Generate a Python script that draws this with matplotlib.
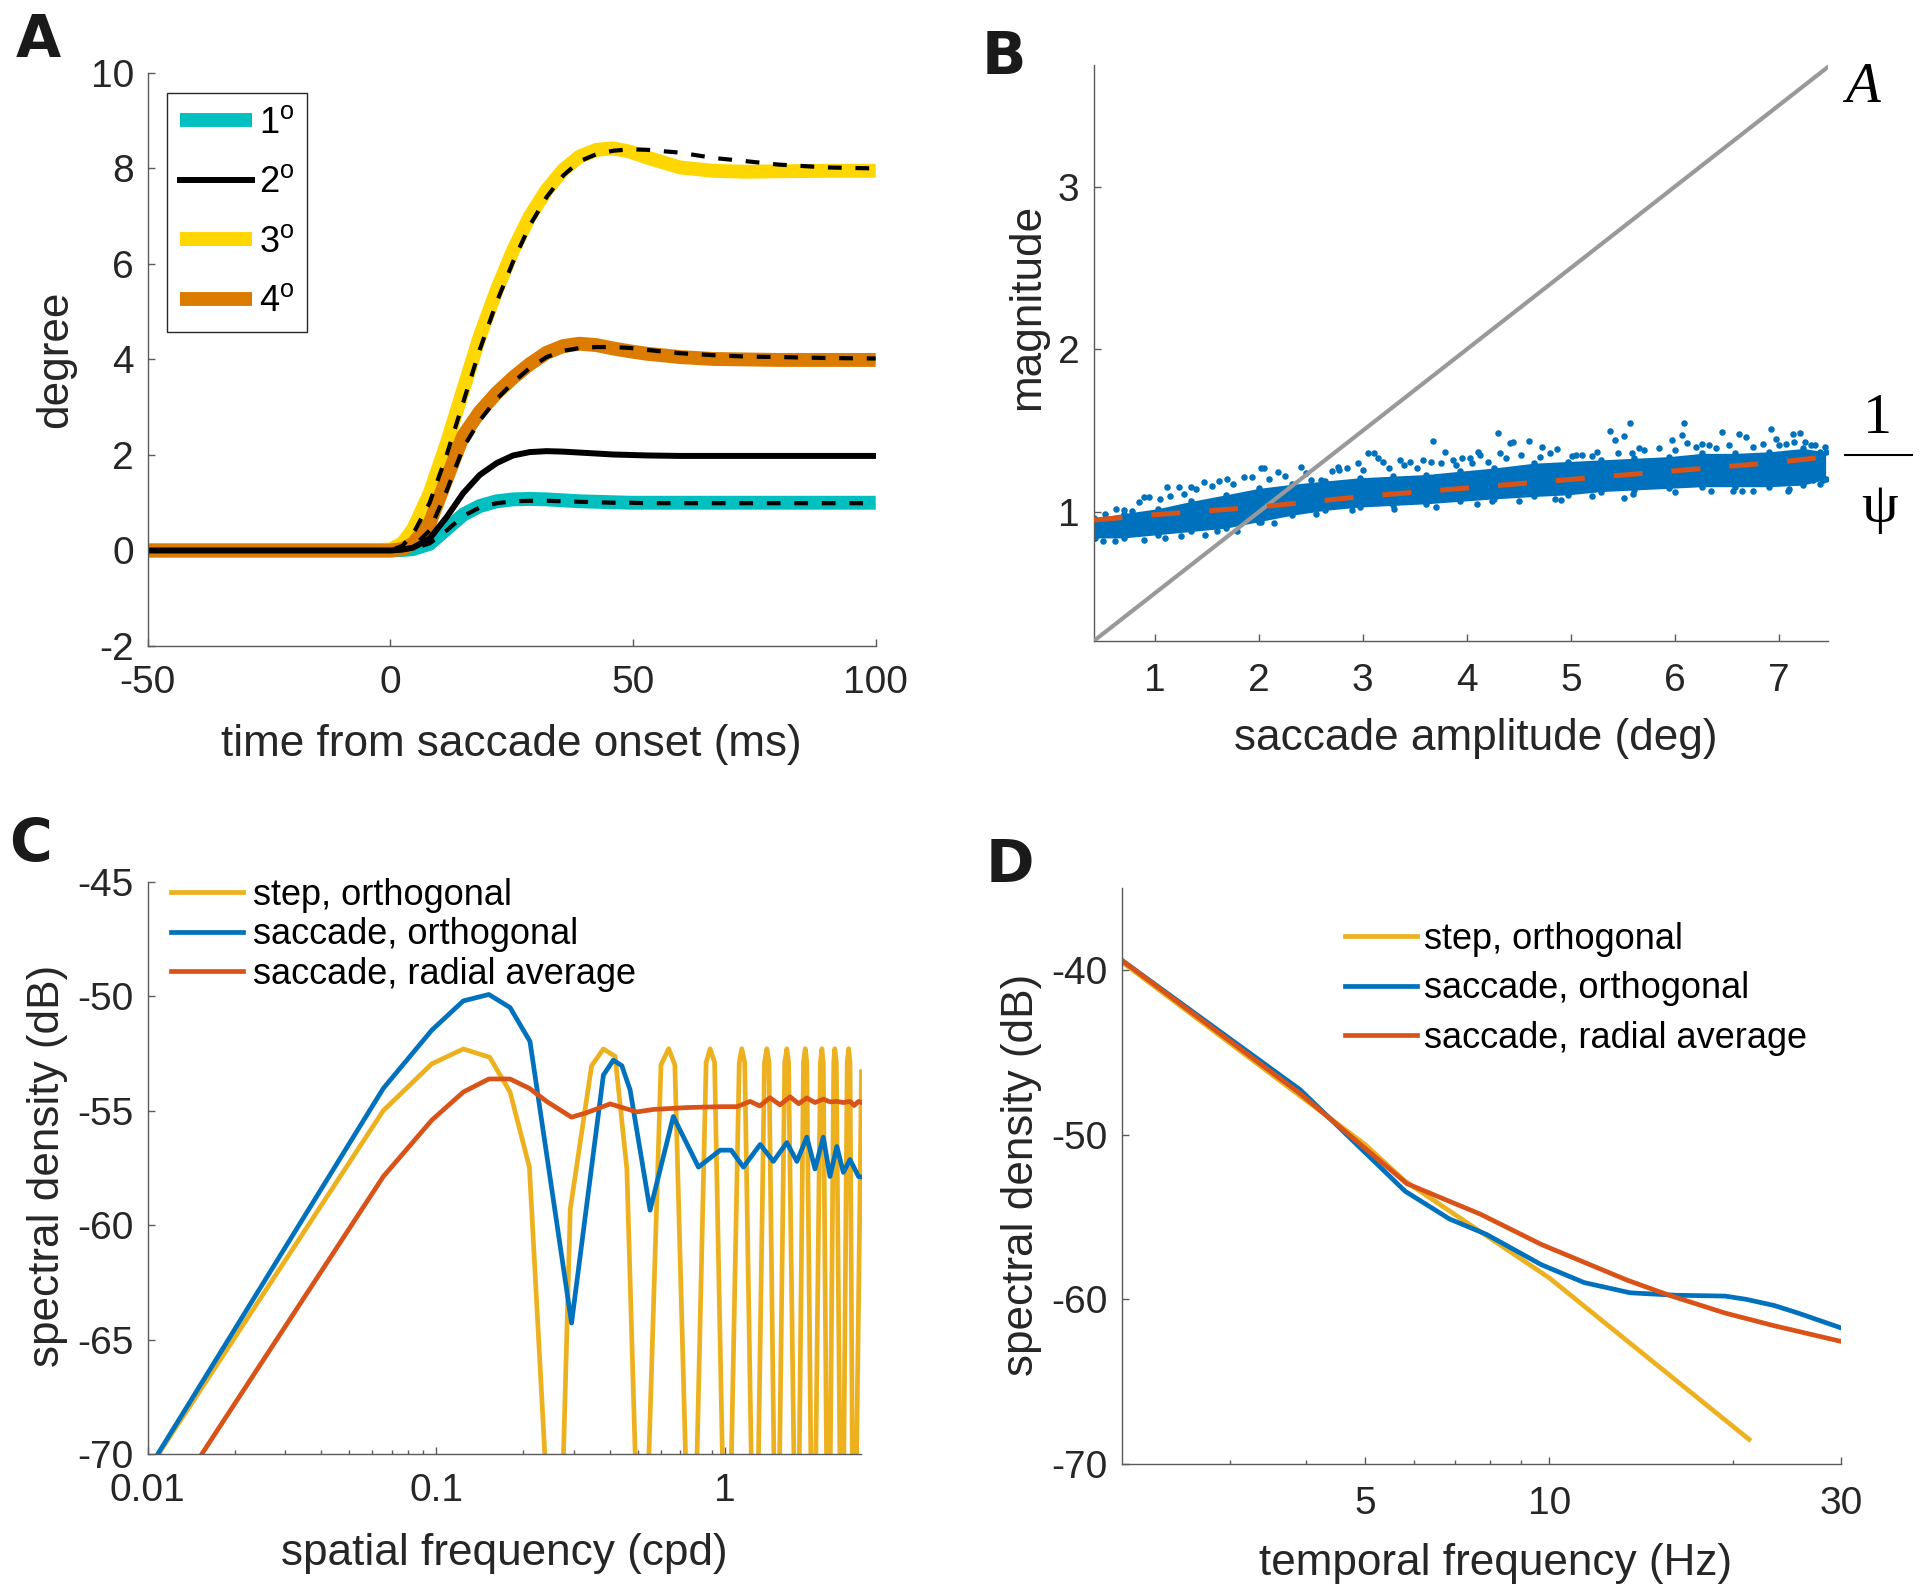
import matplotlib
matplotlib.use('Agg')
import matplotlib.pyplot as plt
from matplotlib.lines import Line2D
from matplotlib.ticker import FixedLocator, FixedFormatter, NullFormatter

plt.rcParams['font.family'] = ['Liberation Sans', 'DejaVu Sans']
plt.rcParams['mathtext.fontset'] = 'custom'
plt.rcParams['mathtext.rm'] = 'Liberation Sans'
plt.rcParams['mathtext.it'] = 'Liberation Sans:italic'
plt.rcParams['axes.unicode_minus'] = False

# ---------------- Panel A data ----------------
t_ms = [-50, -5, 0, 2.5, 4.7, 8.1, 11.6, 15, 18.4, 21.9, 25.3, 28.7, 32.2, 35.6,
        39, 42.5, 45.9, 49.4, 52.8, 59.7, 66.5, 73.4, 80, 90, 100]
pos_1deg = [0, 0, 0, 0.01, 0.03, 0.14, 0.45, 0.75, 0.93, 1.03, 1.07, 1.08, 1.07, 1.05,
            1.03, 1.02, 1.01, 1.0, 1.0, 1.0, 1.0, 1.0, 1.0, 1.0, 1.0]
fit_1deg = [0, 0, 0, 0.01, 0.04, 0.15, 0.42, 0.72, 0.9, 0.99, 1.03, 1.04, 1.04, 1.03,
            1.02, 1.01, 1.0, 1.0, 0.99, 0.99, 0.99, 0.99, 0.99, 0.99, 0.99]
pos_2deg = [0, 0, 0, 0.02, 0.06, 0.25, 0.7, 1.2, 1.58, 1.83, 1.99, 2.06, 2.08, 2.07,
            2.05, 2.03, 2.01, 2.0, 1.99, 1.98, 1.98, 1.98, 1.98, 1.98, 1.98]
pos_3deg = [0, 0, 0.02, 0.15, 0.45, 1.2, 2.24, 3.36, 4.48, 5.45, 6.29, 6.99, 7.55, 7.97,
            8.25, 8.39, 8.42, 8.35, 8.23, 8.02, 7.95, 7.93, 7.94, 7.95, 7.95]
fit_3deg = [0, 0, 0, 0.1, 0.35, 1.0, 2.0, 3.1, 4.2, 5.2, 6.05, 6.8, 7.4, 7.85,
            8.15, 8.3, 8.37, 8.4, 8.39, 8.33, 8.22, 8.15, 8.08, 8.02, 8.0]
pos_4deg = [0, 0, 0, 0.03, 0.15, 0.57, 1.5, 2.4, 2.9, 3.3, 3.62, 3.9, 4.14, 4.28,
            4.33, 4.3, 4.23, 4.17, 4.12, 4.05, 4.01, 4.0, 3.99, 3.99, 3.99]
fit_4deg = [0, 0, 0, 0.01, 0.08, 0.42, 1.25, 2.15, 2.72, 3.17, 3.52, 3.82, 4.05, 4.18,
            4.24, 4.26, 4.26, 4.24, 4.2, 4.13, 4.09, 4.06, 4.05, 4.03, 4.02]
legend_A = ['1$^{\\rm o}$', '2$^{\\rm o}$', '3$^{\\rm o}$', '4$^{\\rm o}$']

# ---------------- Panel B data ----------------
core_amp = [0.41, 0.70, 1.03, 1.35, 1.68, 2.0, 2.32, 2.64, 2.97, 3.29, 3.61, 3.93, 4.26,
            4.65, 4.97, 5.29, 5.61, 5.94, 6.26, 6.58, 6.91, 7.23, 7.45]
core_low = [0.84, 0.84, 0.86, 0.88, 0.90, 0.94, 0.98, 1.01, 1.03, 1.04, 1.05, 1.065, 1.08,
            1.095, 1.105, 1.125, 1.135, 1.145, 1.155, 1.155, 1.155, 1.165, 1.20]
core_high = [0.96, 0.99, 1.02, 1.065, 1.105, 1.145, 1.17, 1.19, 1.21, 1.22, 1.23, 1.25, 1.27,
             1.30, 1.31, 1.32, 1.33, 1.34, 1.36, 1.36, 1.37, 1.39, 1.37]
outlier_amp = [0.892, 0.94, 1.118, 1.23, 1.343, 1.471, 1.697, 1.857, 1.938, 2.018, 2.05, 2.18,
               2.404, 2.50, 2.597, 2.759, 2.774, 2.95, 3.048, 3.112, 3.145, 3.193, 3.353,
               3.45, 3.579, 3.659, 3.676, 3.788, 3.869, 3.949, 4.029, 4.11, 4.126, 4.303,
               4.318, 4.415, 4.448, 4.593, 4.721, 4.866, 5.01, 5.107, 5.204, 5.38, 5.429,
               5.51, 5.573, 5.59, 5.655, 5.976, 6.089, 6.073, 6.12, 6.265, 6.33, 6.458,
               6.62, 6.683, 6.925, 6.973, 7.07, 7.134, 7.199, 7.247, 7.311, 7.392,
               0.42, 0.425, 1.48, 1.79, 2.02, 0.70, 0.78, 0.57, 5.51, 6.555, 6.65, 7.086,
               7.327, 7.42, 4.238, 4.91,
               0.52, 0.63, 0.85, 1.05, 1.15, 1.28, 1.40, 1.55, 1.62, 1.75, 2.10, 2.25,
               2.45, 2.70, 2.85, 3.00, 3.25, 3.40, 3.52, 3.75, 3.90, 4.05, 4.20, 4.38,
               4.52, 4.70, 4.80, 5.05, 5.25, 5.45, 5.70, 5.85, 6.00, 6.20, 6.40, 6.52,
               6.75, 6.85, 7.00, 7.15, 7.35, 7.44,
               0.50, 0.62, 0.90, 1.10, 1.25, 1.60, 2.15, 2.55, 2.90, 3.30, 3.70, 4.10,
               4.50, 4.85, 5.20, 5.60, 6.00, 6.35, 6.75, 7.10, 7.40]
outlier_mag = [1.091, 1.091, 1.153, 1.153, 1.153, 1.181, 1.202, 1.214, 1.217, 1.27, 1.27, 1.243,
               1.276, 1.198, 1.198, 1.276, 1.259, 1.30, 1.362, 1.362, 1.331, 1.31, 1.32,
               1.31, 1.32, 1.31, 1.433, 1.371, 1.32, 1.331, 1.331, 1.371, 1.351, 1.488,
               1.361, 1.423, 1.427, 1.437, 1.402, 1.386, 1.341, 1.351, 1.341, 1.50, 1.443,
               1.468, 1.546, 1.365, 1.392, 1.443, 1.546, 1.474, 1.423, 1.42, 1.412, 1.49,
               1.48, 1.46, 1.51, 1.447, 1.417, 1.48, 1.488, 1.427, 1.412, 1.371,
               0.87, 0.84, 0.86, 0.88, 0.936, 1.01, 1.005, 0.93, 1.085, 1.126, 1.126, 1.126,
               1.198, 1.198, 1.065, 1.075,
               0.99, 1.02, 1.06, 1.08, 1.10, 1.11, 1.14, 1.16, 1.19, 1.17, 1.20, 1.22,
               1.24, 1.25, 1.27, 1.26, 1.27, 1.29, 1.27, 1.30, 1.29, 1.30, 1.31, 1.33,
               1.35, 1.34, 1.36, 1.35, 1.37, 1.36, 1.38, 1.39, 1.38, 1.40, 1.39, 1.41,
               1.40, 1.42, 1.41, 1.43, 1.41, 1.40,
               0.82, 0.82, 0.83, 0.84, 0.85, 0.88, 0.93, 0.99, 1.01, 1.02, 1.03, 1.05,
               1.07, 1.08, 1.10, 1.11, 1.12, 1.13, 1.13, 1.14, 1.17]
line_A_amp = [0.41, 7.5]
line_A_mag = [0.205, 3.75]
fit_amp = [0.41, 1, 2, 3, 4, 5, 6, 7, 7.47]
fit_mag = [0.95, 0.983, 1.03, 1.095, 1.147, 1.20, 1.253, 1.306, 1.34]

# ---------------- Panel C data ----------------
sf_step = [0.0109, 0.0655, 0.0964, 0.124, 0.153, 0.18, 0.21, 0.262,
           0.291, 0.345, 0.379, 0.416, 0.457, 0.515,
           0.60, 0.638, 0.67, 0.767,
           0.86, 0.888, 0.92, 1.015,
           1.12, 1.143, 1.17, 1.27,
           1.37, 1.396, 1.42, 1.51,
           1.61, 1.637, 1.66, 1.774,
           1.87, 1.896, 1.92, 2.02,
           2.14, 2.165, 2.19, 2.28,
           2.38, 2.40, 2.43, 2.54,
           2.65, 2.68, 2.71, 2.79, 2.97]
db_step = [-70.0, -55.0, -52.96, -52.31, -52.67, -54.19, -57.47, -80,
           -59.3, -53.04, -52.31, -52.63, -57.55, -80,
           -53.0, -52.3, -53.0, -80,
           -52.9, -52.3, -52.9, -80,
           -52.9, -52.3, -52.9, -80,
           -52.9, -52.3, -52.9, -80,
           -52.9, -52.3, -52.9, -80,
           -52.9, -52.3, -52.9, -80,
           -52.9, -52.3, -52.9, -80,
           -52.9, -52.3, -52.9, -80,
           -52.9, -52.3, -52.9, -80, -53.3]
sf_sacc = [0.0106, 0.0655, 0.0964, 0.124, 0.152, 0.18, 0.211, 0.294, 0.379, 0.41, 0.439,
           0.469, 0.55, 0.662, 0.809, 0.962, 1.05, 1.158, 1.324, 1.47, 1.637, 1.774, 1.92,
           2.05, 2.19, 2.31, 2.44, 2.57, 2.71, 2.90, 2.97]
db_sacc = [-70.2, -54.03, -51.49, -50.21, -49.93, -50.5, -51.98, -64.28, -53.45, -52.8,
           -53.04, -54.1, -59.35, -55.26, -57.47, -56.73, -56.73, -57.47, -56.48, -57.22,
           -56.4, -57.22, -56.16, -57.55, -56.16, -57.88, -56.57, -57.7, -57.14, -57.88,
           -57.9]
sf_rad = [0.0154, 0.0655, 0.0964, 0.124, 0.152, 0.18, 0.21, 0.241, 0.294, 0.332, 0.40,
          0.495, 0.565, 0.738, 0.962, 1.099, 1.222, 1.32, 1.43, 1.55, 1.68, 1.80, 1.92,
          2.05, 2.19, 2.31, 2.44, 2.57, 2.71, 2.8, 2.9, 2.97]
db_rad = [-70, -57.88, -55.42, -54.19, -53.62, -53.62, -54.03, -54.6, -55.29, -55.09,
          -54.71, -55.06, -54.95, -54.87, -54.83, -54.83, -54.6, -54.8, -54.44, -54.75,
          -54.4, -54.7, -54.45, -54.65, -54.5, -54.62, -54.6, -54.65, -54.6, -54.78,
          -54.6, -54.65]
legend_CD = ['step, orthogonal', 'saccade, orthogonal', 'saccade, radial average']

# ---------------- Panel D data ----------------
tf_step = [2, 3.9, 5.0, 5.8, 10, 21.2]
tdb_step = [-39.5, -47.6, -50.6, -52.8, -58.7, -68.5]
tf_sacc = [2, 3.915, 5.81, 6.87, 7.89, 9.71, 11.4, 13.55, 16.1, 19.37, 21.0, 23.3,
           25.5, 29.8]
tdb_sacc = [-39.4, -47.27, -53.43, -55.12, -56.05, -57.9, -58.98, -59.6, -59.75, -59.8,
            -60.0, -60.37, -60.83, -61.7]
tf_rad = [2, 3.915, 5.85, 7.71, 9.71, 13.4, 15.7, 19.37, 23.3, 29.8]
tdb_rad = [-39.4, -47.5, -52.97, -54.82, -56.67, -58.83, -59.75, -60.83, -61.6, -62.53]

# ---------------- figure ----------------
W, H = 1920, 1590
fig = plt.figure(figsize=(19.2, 15.9), dpi=100)


def rect(x0, y0, x1, y1):
    return [x0 / W, 1 - y1 / H, (x1 - x0) / W, (y1 - y0) / H]


axA = fig.add_axes(rect(147.7, 72.9, 875.7, 646))
axB = fig.add_axes(rect(1093.5, 64.7, 1827.7, 641.2))
axC = fig.add_axes(rect(147.7, 881.6, 861.5, 1454))
axD = fig.add_axes(rect(1121.8, 887.8, 1841.2, 1464))

AXC = '#5a5a5a'
TXT = '#262626'


def style(ax):
    for s in ['top', 'right']:
        ax.spines[s].set_visible(False)
    for s in ['left', 'bottom']:
        ax.spines[s].set_color(AXC)
        ax.spines[s].set_linewidth(1.0)
    ax.tick_params(which='both', direction='in', color=AXC, labelcolor=TXT, width=1.0)
    ax.tick_params(which='major', length=5, labelsize=28)
    ax.tick_params(which='minor', length=3)
    ax.tick_params(axis='x', which='both', pad=14)
    ax.tick_params(axis='y', which='both', pad=10)


LBL = 31.8

# ---- A ----
style(axA)
cy, ye, ora = '#00BFBF', '#FFD700', '#DB7B00'
l1, = axA.plot(t_ms, pos_1deg, color=cy, lw=10, solid_capstyle='butt', label=legend_A[0])
l3, = axA.plot(t_ms, pos_3deg, color=ye, lw=10, solid_capstyle='butt', label=legend_A[2])
l4, = axA.plot(t_ms, pos_4deg, color=ora, lw=10, solid_capstyle='butt', label=legend_A[3])
l2, = axA.plot(t_ms, pos_2deg, color='black', lw=4.3, label=legend_A[1])
for fit in (fit_1deg, fit_3deg, fit_4deg):
    axA.plot(t_ms, fit, color='black', lw=3, linestyle=(0, (3.3, 3.3)))
axA.set_xlim(-50, 100)
axA.set_ylim(-2, 10)
axA.set_xticks([-50, 0, 50, 100])
axA.set_yticks([-2, 0, 2, 4, 6, 8, 10])
axA.set_xlabel('time from saccade onset (ms)', fontsize=LBL, color=TXT)
axA.set_ylabel('degree', fontsize=LBL, color=TXT)
axA.xaxis.set_label_coords(0.5, -0.1727)
axA.yaxis.set_label_coords(-0.126, 0.5)
axA.xaxis.label.set_va('center')
axA.yaxis.label.set_va('center')
legA = axA.legend(handles=[l1, l2, l3, l4], labels=legend_A, loc='upper left',
                  bbox_to_anchor=(167 / W, 1 - 93 / H), bbox_transform=fig.transFigure,
                  borderaxespad=0, fontsize=26, handlelength=2.0, handletextpad=0.2,
                  labelspacing=0.68, borderpad=0.35, fancybox=False, framealpha=1,
                  edgecolor=TXT)
legA.get_frame().set_linewidth(1.0)

# ---- B ----
style(axB)
blue = '#0072BD'
axB.fill_between(core_amp, core_low, core_high, color=blue, lw=0, zorder=2)
axB.scatter(core_amp, core_low, s=22, color=blue, lw=0, zorder=2)
axB.scatter(core_amp, core_high, s=22, color=blue, lw=0, zorder=2)
axB.scatter(outlier_amp, outlier_mag, s=22, color=blue, lw=0, zorder=2)
axB.plot(line_A_amp, line_A_mag, color='#999999', lw=3.0, zorder=3)
axB.plot(fit_amp, fit_mag, color='#D95319', lw=3.6, linestyle=(0, (5.8, 5.8)), zorder=4)
axB.set_xlim(0.41, 7.47)
axB.set_ylim(0.205, 3.75)
axB.set_xticks([1, 2, 3, 4, 5, 6, 7])
axB.set_yticks([1, 2, 3])
axB.tick_params(axis='x', pad=16)
axB.set_xlabel('saccade amplitude (deg)', fontsize=LBL, color=TXT)
axB.set_ylabel('magnitude', fontsize=LBL, color=TXT)
axB.xaxis.set_label_coords(0.52, -0.1696)
axB.yaxis.set_label_coords(-0.0892, 0.5797)
axB.xaxis.label.set_va('center')
axB.yaxis.label.set_va('center')

fig.text(1863 / W, 1 - 102 / H, 'A', fontsize=41, family='Liberation Serif', style='italic',
         ha='center', va='baseline')
fig.text(1877.5 / W, 1 - 433 / H, '1', fontsize=42, family='Liberation Serif',
         ha='center', va='baseline')
fig.add_artist(Line2D([1845 / W, 1912 / W], [1 - 455 / H, 1 - 455 / H], color='black', lw=1.5))
fig.text(1879.5 / W, 1 - 508 / H, '\u03c8', fontsize=42, family='Liberation Serif',
         ha='center', va='center')

# ---- C ----
style(axC)
c_y, c_b, c_r = '#EDB120', '#0072BD', '#D95319'
axC.plot(sf_step, db_step, color=c_y, lw=3.4, label=legend_CD[0])
axC.plot(sf_sacc, db_sacc, color=c_b, lw=3.4, label=legend_CD[1])
axC.plot(sf_rad, db_rad, color=c_r, lw=3.4, label=legend_CD[2])
axC.set_xscale('log')
axC.set_xlim(0.01, 2.97)
axC.set_ylim(-70, -45)
axC.xaxis.set_major_locator(FixedLocator([0.01, 0.1, 1]))
axC.xaxis.set_major_formatter(FixedFormatter(['0.01', '0.1', '1']))
axC.xaxis.set_minor_locator(FixedLocator([0.02, 0.03, 0.04, 0.05, 0.06, 0.07, 0.08, 0.09,
                                          0.2, 0.3, 0.4, 0.5, 0.6, 0.7, 0.8, 0.9, 2]))
axC.xaxis.set_minor_formatter(NullFormatter())
axC.set_yticks([-70, -65, -60, -55, -50, -45])
axC.set_xlabel('spatial frequency (cpd)', fontsize=LBL, color=TXT)
axC.set_ylabel('spectral density (dB)', fontsize=LBL, color=TXT)
axC.xaxis.set_label_coords(0.499, -0.1747)
axC.yaxis.set_label_coords(-0.1397, 0.503)
axC.xaxis.label.set_va('center')
axC.yaxis.label.set_va('center')
axC.legend(loc='upper left', bbox_to_anchor=(171 / W, 1 - 878 / H),
           bbox_transform=fig.transFigure, borderaxespad=0, borderpad=0, frameon=False,
           fontsize=26, handlelength=2.0, handletextpad=0.27, labelspacing=0.12)

# ---- D ----
style(axD)
axD.plot(tf_step, tdb_step, color=c_y, lw=3.4, label=legend_CD[0])
axD.plot(tf_sacc, tdb_sacc, color=c_b, lw=3.4, label=legend_CD[1])
axD.plot(tf_rad, tdb_rad, color=c_r, lw=3.4, label=legend_CD[2])
axD.set_xscale('log')
axD.set_xlim(2, 30)
axD.set_ylim(-70, -35)
axD.xaxis.set_major_locator(FixedLocator([5, 10, 30]))
axD.xaxis.set_major_formatter(FixedFormatter(['5', '10', '30']))
axD.xaxis.set_minor_locator(FixedLocator([3, 4, 6, 7, 8, 9, 20]))
axD.xaxis.set_minor_formatter(NullFormatter())
axD.set_yticks([-70, -60, -50, -40])
axD.tick_params(axis='x', pad=16)
axD.set_xlabel('temporal frequency (Hz)', fontsize=LBL, color=TXT)
axD.set_ylabel('spectral density (dB)', fontsize=LBL, color=TXT)
axD.xaxis.set_label_coords(0.519, -0.1735)
axD.yaxis.set_label_coords(-0.140, 0.5016)
axD.xaxis.label.set_va('center')
axD.yaxis.label.set_va('center')
axD.legend(loc='upper left', bbox_to_anchor=(1345 / W, 1 - 922 / H),
           bbox_transform=fig.transFigure, borderaxespad=0, borderpad=0, frameon=False,
           fontsize=26, handlelength=2.0, handletextpad=0.2, labelspacing=0.4)

# ---- panel letters ----
for letter, x, y in [('A', 38, 57), ('B', 1004, 74), ('C', 30, 861), ('D', 1010, 882)]:
    fig.text(x / W, 1 - y / H, letter, fontsize=42, fontweight='bold', family='DejaVu Sans',
             ha='center', va='baseline', color='#1a1a1a')

fig.savefig('out.png', dpi=100)
